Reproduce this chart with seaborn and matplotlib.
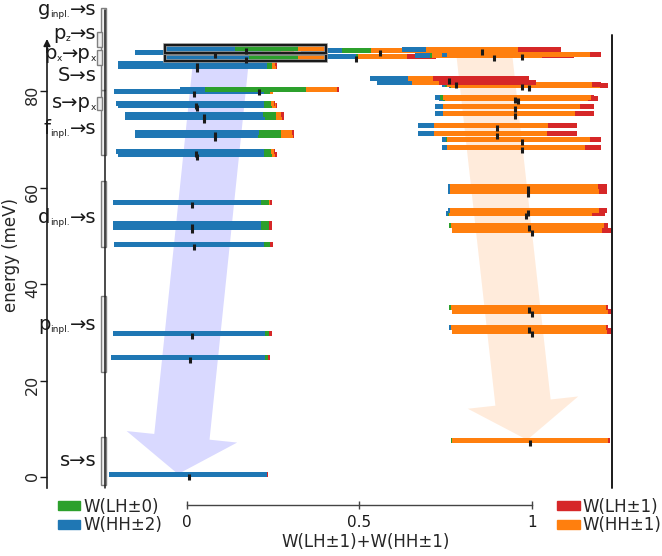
import matplotlib
matplotlib.use("Agg")
import matplotlib.pyplot as plt
import matplotlib.transforms as mtransforms
import matplotlib.patheffects as pe
from matplotlib.patches import Rectangle, Patch, FancyArrowPatch, ArrowStyle
from matplotlib.offsetbox import TextArea, HPacker, AnnotationBbox
import numpy as np
import pandas as pd
import seaborn as sns

# ---------------- data ----------------
energy = [0.0, 7.0, 24.2, 29.2, 29.7, 30.5, 33.8, 34.6, 47.7, 50.6,
          51.2, 51.6, 51.9, 54.1, 54.7, 56.4, 58.7, 59.6, 66.3, 66.9,
          67.8, 69.4, 70.3, 70.7, 70.9, 72.3, 74.0, 74.6, 74.8, 76.3,
          76.5, 76.9, 77.9, 78.1, 79.4, 79.8, 80.6, 80.8, 81.2, 82.1,
          84.6, 85.2, 86.4, 86.6, 86.8, 87.0, 87.5, 87.9, 88.1, 88.2]
w_hh2 = [0.995, 0.0, 0.97, 0.96, 0.0, 0.01, 0.0, 0.0, 0.94, 0.0,
         0.93, 0.0, 0.93, 0.013, 0.013, 0.93, 0.013, 0.013, 0.92, 0.93,
         0.03, 0.025, 0.77, 0.10, 0.78, 0.10, 0.88, 0.87, 0.05, 0.05,
         0.92, 0.93, 0.03, 0.03, 0.94, 0.16, 0.005, 0.02, 0.22, 0.24,
         0.94, 0.94, 0.52, 0.50, 0.10, 0.03, 0.80, 0.26, 0.145, 0.43]
w_lh0 = [0.0, 0.005, 0.02, 0.025, 0.0, 0.0, 0.0, 0.01, 0.04, 0.0,
         0.055, 0.01, 0.055, 0.005, 0.0, 0.055, 0.0, 0.0, 0.05, 0.045,
         0.0, 0.005, 0.15, 0.0, 0.14, 0.0, 0.07, 0.08, 0.0, 0.0,
         0.05, 0.045, 0.01, 0.02, 0.04, 0.63, 0.005, 0.01, 0.0, 0.0,
         0.03, 0.03, 0.31, 0.01, 0.01, 0.0, 0.12, 0.18, 0.0, 0.40]
w_hh1 = [0.0, 0.985, 0.0, 0.0, 0.97, 0.975, 0.975, 0.975, 0.0, 0.94,
         0.0, 0.965, 0.0, 0.90, 0.937, 0.005, 0.937, 0.932, 0.02, 0.015,
         0.87, 0.90, 0.07, 0.71, 0.065, 0.72, 0.04, 0.035, 0.83, 0.86,
         0.025, 0.02, 0.90, 0.93, 0.02, 0.20, 0.94, 0.91, 0.17, 0.16,
         0.025, 0.02, 0.17, 0.31, 0.69, 0.90, 0.08, 0.56, 0.58, 0.16]
w_lh1 = [0.005, 0.01, 0.01, 0.015, 0.03, 0.015, 0.025, 0.015, 0.02, 0.06,
         0.015, 0.025, 0.015, 0.082, 0.05, 0.01, 0.05, 0.055, 0.01, 0.01,
         0.10, 0.07, 0.01, 0.19, 0.015, 0.18, 0.01, 0.015, 0.12, 0.09,
         0.005, 0.005, 0.06, 0.02, 0.0, 0.01, 0.05, 0.06, 0.61, 0.60,
         0.005, 0.01, 0.0, 0.18, 0.20, 0.07, 0.0, 0.0, 0.275, 0.01]
highlighted = [False] * 42 + [True] + [False] * 6 + [True]

# category labels: (main, subscript, following text, following subscript)
category_main = ["s→s", "p", "d", "f", "s→p", "S→s", "p", "p", "g"]
category_sub = ["", "inpl.", "inpl.", "inpl.", "x", "", "x", "z", "inpl."]
category_rest = ["", "→s", "→s", "→s", "", "", "→p", "→s", "→s"]
category_rest_sub = ["", "", "", "", "", "", "x", "", ""]
category_energy = [2.5, 30.5, 52.8, 71.3, 76.7, 82.3, 86.8, 91.0, 95.8]

bracket_low = [-1.7, 21.8, 47.7, 66.7, 80.2, 89.2, 85.4, 76.0]
bracket_high = [8.3, 37.5, 61.3, 80.2, 97.3, 92.3, 88.5, 78.8]
bracket_small = [False, False, False, False, False, True, True, True]

x_ticks = [0, 0.5, 1]
x_tick_labels = ["0", "0.5", "1"]
y_ticks = [0, 20, 40, 60, 80]

legend_left_labels = ["W(LH±0)", "W(HH±2)"]
legend_right_labels = ["W(LH±1)", "W(HH±1)"]

# ---------------- style ----------------
sns.set_theme(style="ticks")
plt.rcParams["font.family"] = ["DejaVu Sans"]
pal = sns.color_palette("tab10")
C_HH2, C_LH0, C_HH1, C_LH1 = pal[0], pal[2], pal[1], pal[3]

BAR_W = 0.461
BAR_H = 1.1

df = pd.DataFrame({"energy": energy, "hh2": w_hh2, "lh0": w_lh0,
                   "hh1": w_hh1, "lh1": w_lh1, "hl": highlighted})
tot = df[["hh2", "lh0", "hh1", "lh1"]].sum(axis=1)
for c in ["hh2", "lh0", "hh1", "lh1"]:
    df[c] = df[c] / tot
df["x"] = df["hh1"] + df["lh1"]

fig = plt.figure(figsize=(6.62, 5.56), dpi=100)
ax = fig.add_axes([0.15861, 0.12230, 0.76586, 0.85971])
trans = mtransforms.blended_transform_factory(ax.transAxes, ax.transData)

# big translucent arrows
style = ArrowStyle.Simple(head_length=27, head_width=80, tail_width=40)
ax.add_patch(FancyArrowPatch((0.101, 88.0), (-0.026, 0.6), arrowstyle=style,
                             mutation_scale=1, shrinkA=0, shrinkB=0,
                             fc=(0, 0, 1, 0.15), ec="none", zorder=1))
ax.add_patch(FancyArrowPatch((0.861, 88.0), (0.986, 7.7), arrowstyle=style,
                             mutation_scale=1, shrinkA=0, shrinkB=0,
                             fc=(1.0, 0.498, 0.055, 0.15), ec="none", zorder=1))

# stacked bars centred on x
PAD_X, PAD_Y = 0.003, 0.22
for i, r in df.iterrows():
    z = 3 + i * 0.01 + (2 if r["hl"] else 0)
    left = r["x"] - BAR_W / 2
    for c, col in [("hh2", C_HH2), ("lh0", C_LH0), ("hh1", C_HH1), ("lh1", C_LH1)]:
        w = r[c] * BAR_W
        if w > 0:
            ax.barh(r["energy"], w, left=left, height=BAR_H, align="edge",
                    color=col, linewidth=0, zorder=z)
        left += w
    if r["hl"]:
        ax.add_patch(Rectangle((r["x"] - BAR_W / 2 - PAD_X, r["energy"] - PAD_Y),
                               BAR_W + 2 * PAD_X, BAR_H + 2 * PAD_Y,
                               fill=False, ec="k", lw=1.5, zorder=z + 0.005,
                               path_effects=[pe.Stroke(linewidth=2.6, foreground="#999999"),
                                             pe.Normal()]))

sns.scatterplot(data=df, x="x", y="energy", marker="|", s=22, linewidth=2.2,
                color="k", ax=ax, zorder=10, legend=False)

ax.set_xlim(-0.2377, 1.2319)
ax.set_ylim(-2.28, 96.8)

# vertical frame lines
ax.plot([0, 0], [0, 1], transform=ax.transAxes, color="k", lw=1.1, clip_on=False, zorder=4)
ax.plot([1, 1], [0, 0.9475], transform=ax.transAxes, color="k", lw=1.4, clip_on=False, zorder=4)

# spines
ax.spines["top"].set_visible(False)
ax.spines["right"].set_visible(False)
ax.spines["left"].set_position(("outward", 41.76))
ax.spines["left"].set_bounds(-2.28, 89.0)
ax.spines["left"].set_color("k")
ax.spines["left"].set_linewidth(1.2)
ax.spines["bottom"].set_position(("outward", 12.24))
ax.spines["bottom"].set_bounds(0, 1)
ax.spines["bottom"].set_color("#444444")
ax.spines["bottom"].set_linewidth(1.0)

ax.annotate("", xy=(-0.1144, 90.8), xytext=(-0.1144, 88.0), xycoords=trans,
            textcoords=trans, annotation_clip=False,
            arrowprops=dict(arrowstyle="-|>", color="k", lw=1.2,
                            mutation_scale=10, shrinkA=0, shrinkB=0))

ax.set_yticks(y_ticks)
ax.tick_params(axis="y", direction="out", length=5, width=1, labelsize=11.5,
               labelrotation=90, pad=0, color="k")
ax.set_xticks(x_ticks, x_tick_labels)
ax.tick_params(axis="x", direction="inout", length=6, width=1, labelsize=11,
               pad=4, color="#444444", labelcolor="k")

ax.set_xlabel("W(LH±1)+W(HH±1)", fontsize=12)
ax.xaxis.set_label_coords(0.515, -0.094)
ax.set_ylabel("energy (meV)", fontsize=12)
ax.yaxis.set_label_coords(-0.168, 0.4874)

# brackets & category labels
for lo, hi, small in zip(bracket_low, bracket_high, bracket_small):
    x0 = -0.0158 if small else -0.0075
    ax.add_patch(Rectangle((x0, lo), 0.0095, hi - lo, transform=trans,
                           fc="#eeeeee", ec="#808080", lw=1.0, clip_on=False, zorder=3))

MAIN_FS, SUB_FS = 14, 6.5
DESC = 0.95  # baseline-to-bottom offset of a 14 pt text box, in meV


def ta(t, fs):
    return TextArea(t, textprops=dict(fontsize=fs, color="k"))


for main, sub, rest, rsub, e in zip(category_main, category_sub, category_rest,
                                    category_rest_sub, category_energy):
    kids = [ta(main, MAIN_FS)]
    if sub:
        kids.append(ta(sub, SUB_FS))
    if rest:
        kids.append(ta(rest, MAIN_FS))
    if rsub:
        kids.append(ta(rsub, SUB_FS))
    box = HPacker(children=kids, align="bottom", pad=0, sep=0)
    ab = AnnotationBbox(box, (-0.017, e - DESC), xycoords=trans,
                        box_alignment=(1, 0), frameon=False, pad=0,
                        annotation_clip=False, zorder=5)
    ax.add_artist(ab)

# legends
fig.legend([Patch(color=C_LH0), Patch(color=C_HH2)], legend_left_labels,
           loc="upper left", bbox_to_anchor=(0.0876, 0.1052), frameon=False,
           fontsize=12, handlelength=1.35, handleheight=0.5, handletextpad=0.2,
           labelspacing=0.05, borderpad=0, borderaxespad=0)
fig.legend([Patch(color=C_LH1), Patch(color=C_HH1)], legend_right_labels,
           loc="upper left", bbox_to_anchor=(0.8414, 0.1052), frameon=False,
           fontsize=12, handlelength=1.35, handleheight=0.5, handletextpad=0.2,
           labelspacing=0.05, borderpad=0, borderaxespad=0)

fig.savefig("out.png", dpi=100)
